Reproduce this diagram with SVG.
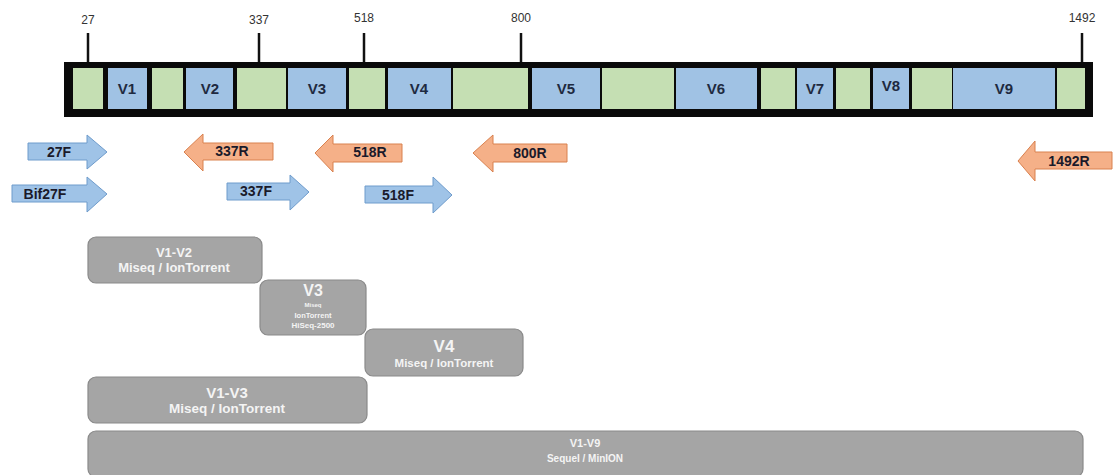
<svg xmlns="http://www.w3.org/2000/svg" width="1119" height="475" viewBox="0 0 1119 475">
<style>
.g{fill:#c5dfb3}
.b{fill:#a0c2e4}
.vl{font-family:"Liberation Sans",Arial,sans-serif;font-weight:bold;font-size:15px;fill:#1e2a40;text-anchor:middle}
.tk{font-family:"Liberation Sans",Arial,sans-serif;font-size:12px;fill:#333;text-anchor:middle}
.tl{stroke:#111;stroke-width:2.5}
.fa{fill:#9fc3e7;stroke:#6f9ccc;stroke-width:1}
.ra{fill:#f5b088;stroke:#d9814f;stroke-width:1}
.al{font-family:"Liberation Sans",Arial,sans-serif;font-weight:bold;font-size:14px;fill:#1a1a2a;text-anchor:middle}
.bx{fill:#a5a5a5;stroke:#8a8a8a;stroke-width:1.2}
.bt{font-family:"Liberation Sans",Arial,sans-serif;font-weight:bold;fill:#f4f4f4;text-anchor:middle}
</style>
<rect width="1119" height="475" fill="#fff"/>
<g id="gene">
<line class="tl" x1="88" y1="33" x2="88" y2="63"/>
<line class="tl" x1="259" y1="33" x2="259" y2="63"/>
<line class="tl" x1="364" y1="33" x2="364" y2="63"/>
<line class="tl" x1="521" y1="33" x2="521" y2="63"/>
<line class="tl" x1="1082" y1="33" x2="1082" y2="63"/>
<text class="tk" x="88" y="24">27</text>
<text class="tk" x="259" y="24">337</text>
<text class="tk" x="364" y="22">518</text>
<text class="tk" x="521" y="22">800</text>
<text class="tk" x="1082" y="22">1492</text>
<rect x="64" y="62" width="1029" height="55" fill="#0a0a0a"/>
<rect class="g" x="73" y="68" width="30" height="41"/>
<rect class="b" x="108" y="68" width="39" height="41"/>
<rect class="g" x="152" y="68" width="31" height="41"/>
<rect class="b" x="186" y="68" width="47" height="41"/>
<rect class="g" x="237" y="68" width="49" height="41"/>
<rect class="b" x="288" y="68" width="58" height="41"/>
<rect class="g" x="349" y="68" width="36" height="41"/>
<rect class="b" x="388" y="68" width="63" height="41"/>
<rect class="g" x="453" y="68" width="75" height="41"/>
<rect class="b" x="532" y="68" width="68" height="41"/>
<rect class="g" x="602" y="68" width="72" height="41"/>
<rect class="b" x="676" y="68" width="81" height="41"/>
<rect class="g" x="761" y="68" width="34" height="41"/>
<rect class="b" x="797" y="68" width="36" height="41"/>
<rect class="g" x="836" y="68" width="34" height="41"/>
<rect class="b" x="873" y="68" width="36" height="41"/>
<rect class="g" x="912" y="68" width="40" height="41"/>
<rect class="b" x="953" y="68" width="102" height="41"/>
<rect class="g" x="1057" y="68" width="28" height="41"/>
<text class="vl" x="127" y="94">V1</text>
<text class="vl" x="210" y="94">V2</text>
<text class="vl" x="317" y="94">V3</text>
<text class="vl" x="419" y="94">V4</text>
<text class="vl" x="566" y="94">V5</text>
<text class="vl" x="716" y="94">V6</text>
<text class="vl" x="815" y="94">V7</text>
<text class="vl" x="891" y="91">V8</text>
<text class="vl" x="1004" y="94">V9</text>
</g>
<g id="primer-27F">
<path class="fa" d="M28,143 H87 V135 L107,152 L87,169 V160 H28 Z"/>
<text class="al" x="59" y="157">27F</text>
</g>
<g id="primer-Bif27F">
<path class="fa" d="M12,185 H87 V177 L107,194 L87,212 V202 H12 Z"/>
<text class="al" x="45" y="199">Bif27F</text>
</g>
<g id="primer-337R">
<path class="ra" d="M273,143 H203 V134 L184,152 L203,171 V160 H273 Z"/>
<text class="al" x="232" y="156">337R</text>
</g>
<g id="primer-518R">
<path class="ra" d="M402,144 H333 V135 L315,153 L333,172 V162 H402 Z"/>
<text class="al" x="370" y="157">518R</text>
</g>
<g id="primer-800R">
<path class="ra" d="M567,144 H493 V135 L473,153 L493,172 V162 H567 Z"/>
<text class="al" x="530" y="158">800R</text>
</g>
<g id="primer-1492R">
<path class="ra" d="M1112,152 H1035 V141 L1018,161 L1035,181 V169 H1112 Z"/>
<text class="al" x="1069" y="166">1492R</text>
</g>
<g id="primer-337F">
<path class="fa" d="M227,183 H290 V175 L309,192 L290,210 V200 H227 Z"/>
<text class="al" x="256" y="196">337F</text>
</g>
<g id="primer-518F">
<path class="fa" d="M365,186 H433 V177 L452,195 L433,213 V203 H365 Z"/>
<text class="al" x="398" y="200">518F</text>
</g>
<g id="box-V1-V2">
<rect class="bx" x="88" y="237" width="174" height="46" rx="8"/>
<text class="bt" x="174" y="257" font-size="13">V1-V2</text>
<text class="bt" x="174" y="272" font-size="13">Miseq / IonTorrent</text>
</g>
<g id="box-V3">
<rect class="bx" x="260" y="280" width="106" height="55" rx="8"/>
<text class="bt" x="313" y="296" font-size="16">V3</text>
<text class="bt" x="313" y="307" font-size="6">Miseq</text>
<text class="bt" x="313" y="318" font-size="7.5">IonTorrent</text>
<text class="bt" x="313" y="328" font-size="8">HiSeq-2500</text>
</g>
<g id="box-V4">
<rect class="bx" x="365" y="329" width="158" height="47" rx="8"/>
<text class="bt" x="444" y="352" font-size="17">V4</text>
<text class="bt" x="444" y="367" font-size="11.5">Miseq / IonTorrent</text>
</g>
<g id="box-V1-V3">
<rect class="bx" x="88" y="377" width="279" height="46" rx="8"/>
<text class="bt" x="227" y="398" font-size="15">V1-V3</text>
<text class="bt" x="227" y="413" font-size="13.5">Miseq / IonTorrent</text>
</g>
<g id="box-V1-V9">
<rect class="bx" x="88" y="431" width="995" height="46" rx="8"/>
<text class="bt" x="585" y="447" font-size="11">V1-V9</text>
<text class="bt" x="585" y="462" font-size="10">Sequel / MinION</text>
</g>
<g id="connectors"/>
</svg>
